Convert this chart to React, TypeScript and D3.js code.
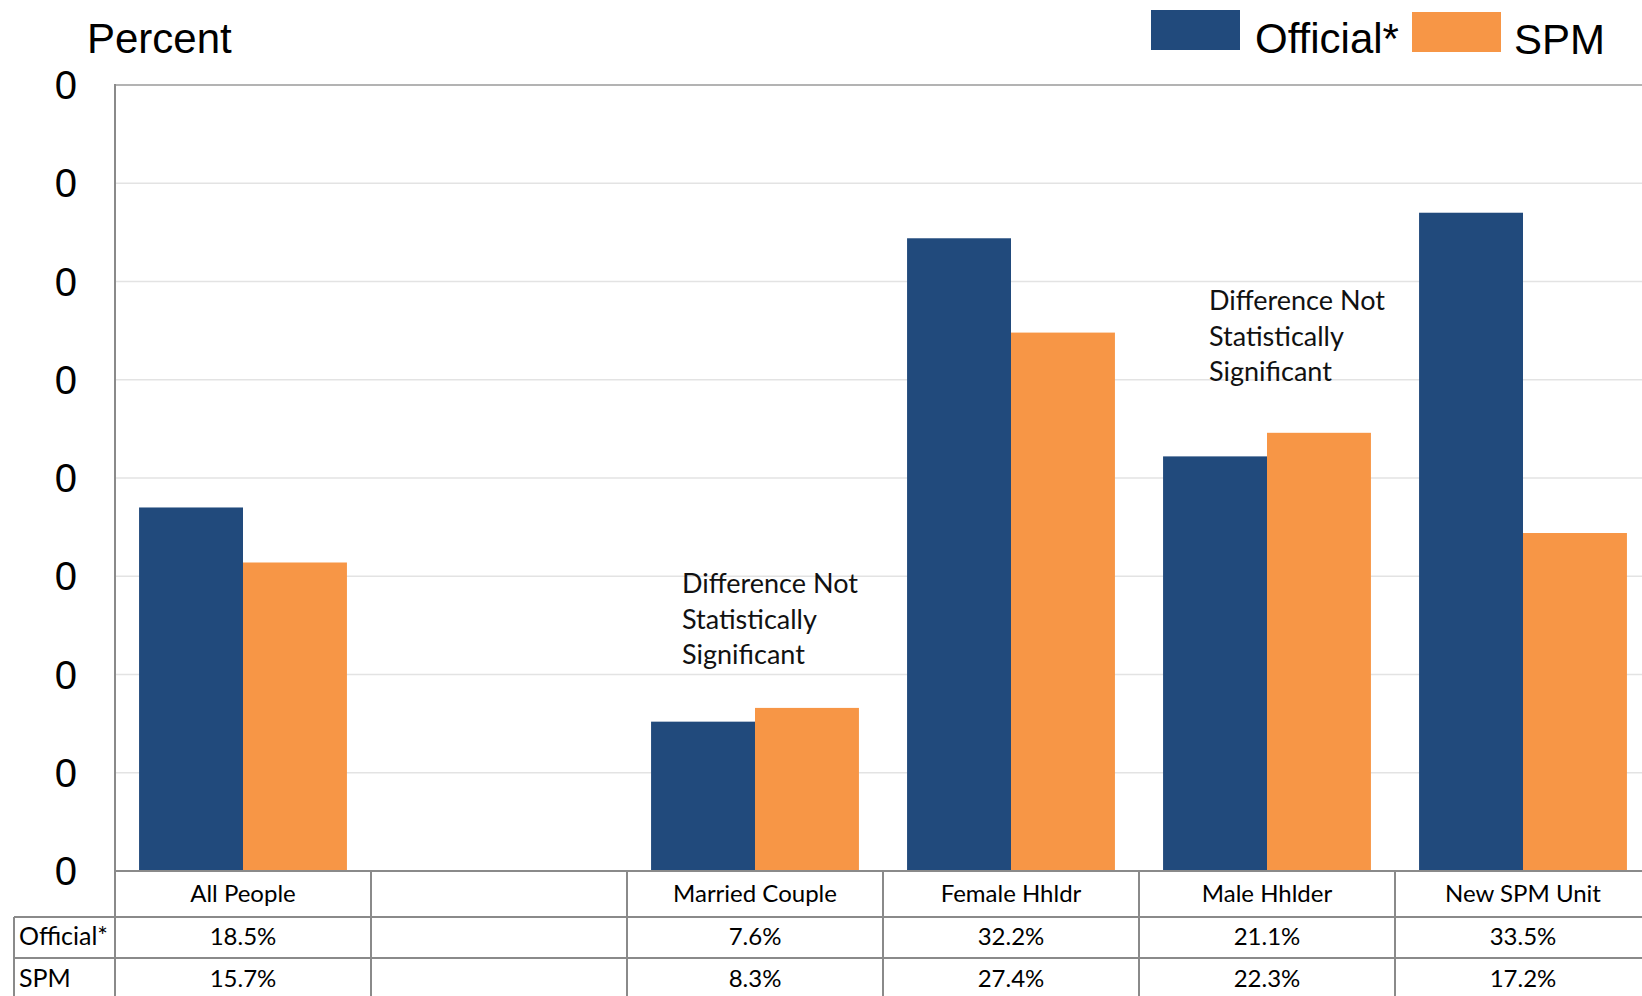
import React from "react";
import * as d3 from "d3";

// Poverty rates by family/unit type, official measure vs. SPM
const categories = ["All People", "", "Married Couple", "Female Hhldr", "Male Hhlder", "New SPM Unit"];
const officialValues: (number | null)[] = [18.5, null, 7.6, 32.2, 21.1, 33.5];
const spmValues: (number | null)[] = [15.7, null, 8.3, 27.4, 22.3, 17.2];
const seriesNames = ["Official*", "SPM"];
const seriesColors = ["#214A7C", "#F79646"];
const yTickValues = [0, 5, 10, 15, 20, 25, 30, 35, 40];
const yTickLabels = ["0", "0", "0", "0", "0", "0", "0", "0", "0"];
const noteCategories = ["Married Couple", "Male Hhlder"];
const noteLines = ["Difference Not", "Statistically", "Significant"];

const W = 1642;
const H = 996;
const left = 115;
const top = 85;
const baseline = 871;
const bandW = 256;
const rowH1 = 917;
const rowH2 = 958;
const tableLeft = 14;
const sans = "'Liberation Sans', Arial, sans-serif";
const calib = "Lato, 'Open Sans', sans-serif";

// placement of each note: offset into its band, and first baseline
const notePlacement = [
  { dx: 55, y: 593 },
  { dx: 70, y: 310 },
];

export default function App() {
  const x = d3
    .scaleBand<string>()
    .domain(categories)
    .range([left, left + bandW * categories.length])
    .paddingInner(0)
    .paddingOuter(0);
  const y = d3.scaleLinear().domain([0, 40]).range([baseline, top]);
  const inset = x.bandwidth() * 0.094;
  const barW = (x.bandwidth() - 2 * inset) / 2;
  const series = [officialValues, spmValues];
  const fmt = (v: number | null) => (v == null ? "" : `${v.toFixed(1)}%`);

  return (
    <svg
      width={W}
      height={H}
      style={{ position: "absolute", left: 0, top: 0, background: "#fff" }}
    >
      {/* gridlines */}
      {yTickValues.slice(1, -1).map((t) => (
        <line key={t} x1={left} x2={W} y1={y(t)} y2={y(t)} stroke="#e3e3e3" strokeWidth={1.5} />
      ))}
      <line x1={left} x2={W} y1={y(40)} y2={y(40)} stroke="#b3b3b3" strokeWidth={2} />

      {/* y tick labels */}
      {yTickValues.map((t, i) => (
        <text
          key={t}
          x={77}
          y={y(t)}
          dy="0.35em"
          textAnchor="end"
          fontFamily={sans}
          fontSize={40}
          fill="#000"
        >
          {yTickLabels[i]}
        </text>
      ))}
      <text x={87} y={53} fontFamily={sans} fontSize={42} fill="#000">
        Percent
      </text>

      {/* bars */}
      {categories.map((c, ci) =>
        series.map((vals, si) => {
          const v = vals[ci];
          if (v == null) return null;
          const x0 = (x(c) as number) + inset + si * barW;
          return (
            <rect
              key={`${c}-${si}`}
              x={x0}
              y={y(v)}
              width={barW}
              height={baseline - y(v)}
              fill={seriesColors[si]}
            />
          );
        })
      )}

      {/* annotations */}
      {noteCategories.map((c, ni) => {
        const nx = (x(c) as number) + notePlacement[ni].dx;
        return (
          <text
            key={c}
            x={nx}
            y={notePlacement[ni].y}
            fontFamily={calib}
            fontSize={27}
            fill="#111"
          >
            {noteLines.map((l, i) => (
              <tspan key={i} x={nx} dy={i === 0 ? 0 : 35.5}>
                {l}
              </tspan>
            ))}
          </text>
        );
      })}

      {/* axis line */}
      <line x1={left} x2={left} y1={top - 1} y2={H} stroke="#8a8a8a" strokeWidth={2} />

      {/* data table */}
      <line x1={left} x2={W} y1={baseline} y2={baseline} stroke="#8a8a8a" strokeWidth={2} />
      <line x1={tableLeft} x2={W} y1={rowH1} y2={rowH1} stroke="#8a8a8a" strokeWidth={2} />
      <line x1={tableLeft} x2={W} y1={rowH2} y2={rowH2} stroke="#8a8a8a" strokeWidth={2} />
      <line x1={tableLeft} x2={tableLeft} y1={rowH1} y2={H} stroke="#8a8a8a" strokeWidth={2} />
      {categories.map((c) => (
        <line
          key={`v-${c}`}
          x1={(x(c) as number) + bandW}
          x2={(x(c) as number) + bandW}
          y1={baseline}
          y2={H}
          stroke="#8a8a8a"
          strokeWidth={2}
        />
      ))}
      {categories.map((c, ci) => {
        const cx = (x(c) as number) + bandW / 2;
        return (
          <g key={`t-${c}`} fontFamily={calib} fontSize={24} fill="#000" textAnchor="middle">
            <text x={cx} y={902}>{c}</text>
            <text x={cx} y={945}>{fmt(officialValues[ci])}</text>
            <text x={cx} y={987}>{fmt(spmValues[ci])}</text>
          </g>
        );
      })}
      <g fontFamily={calib} fontSize={25} fill="#000">
        <text x={19} y={945}>{seriesNames[0]}</text>
        <text x={19} y={987}>{seriesNames[1]}</text>
      </g>

      {/* legend */}
      <rect x={1151} y={10} width={89} height={40} fill={seriesColors[0]} />
      <text x={1255} y={53} fontFamily={sans} fontSize={42} fill="#000">
        {seriesNames[0]}
      </text>
      <rect x={1412} y={12} width={89} height={40} fill={seriesColors[1]} />
      <text x={1514} y={54} fontFamily={sans} fontSize={42} fill="#000">
        {seriesNames[1]}
      </text>
    </svg>
  );
}
